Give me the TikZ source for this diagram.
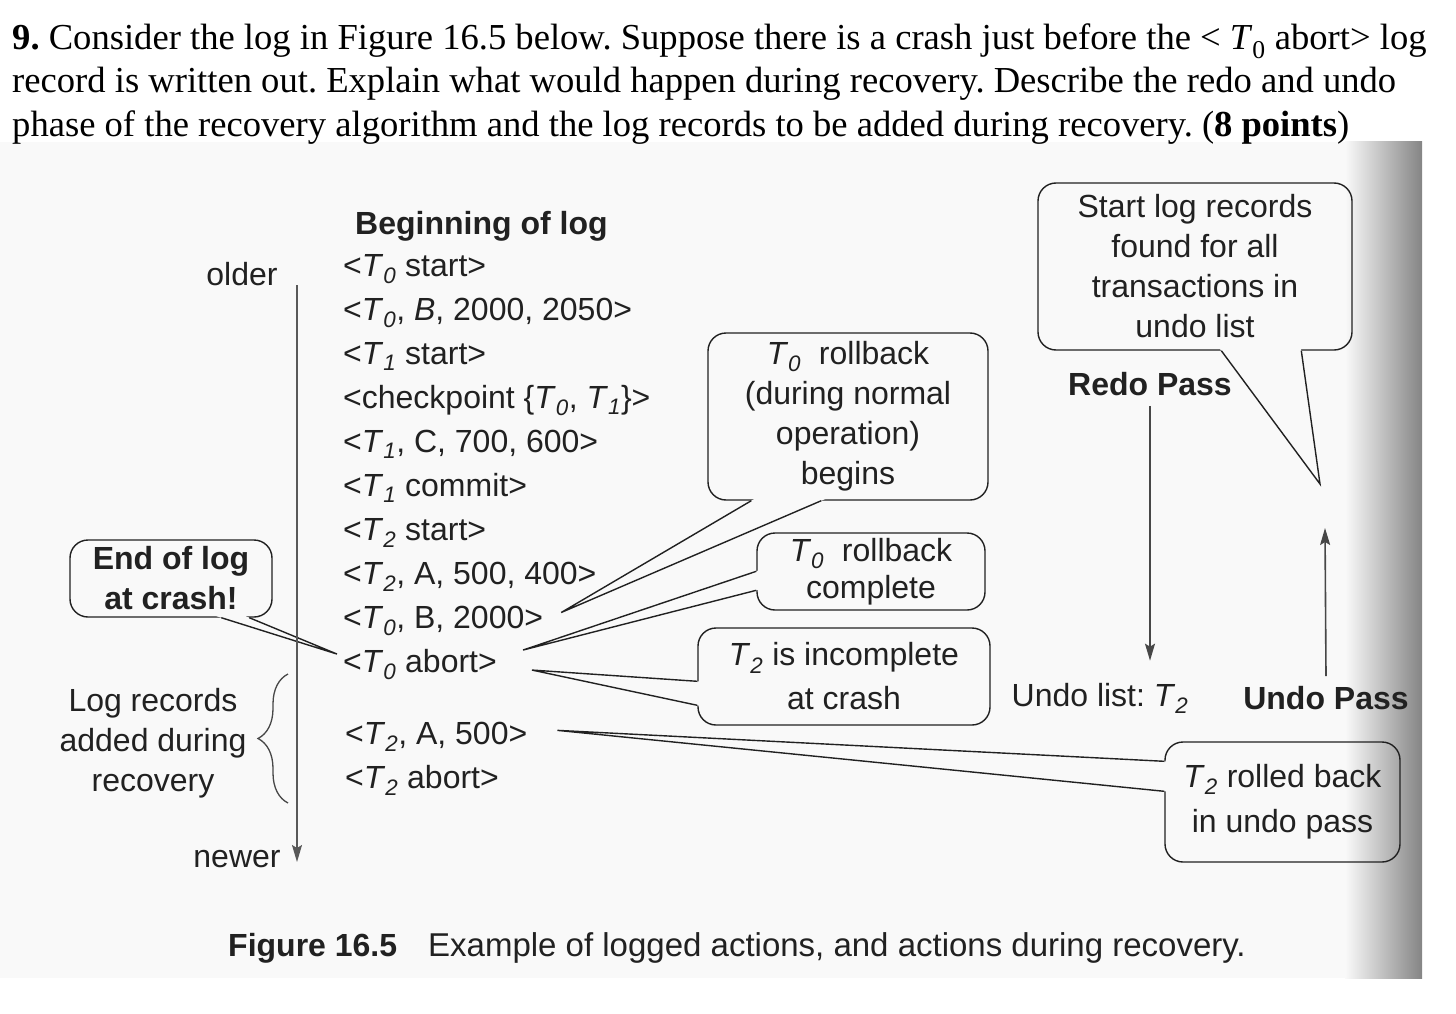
\documentclass[tikz,border=0pt]{standalone}
\usepackage{fontspec}
\setmainfont{Liberation Sans}
\newfontfamily\qfont{Liberation Serif}
\usetikzlibrary{arrows.meta,calc,decorations.pathreplacing}
\frenchspacing
\definecolor{ink}{gray}{0.13}
\definecolor{paper}{gray}{0.978}
\definecolor{rulecol}{gray}{0.28}
\newcommand{\figfont}{\fontsize{32}{40}\selectfont}
\newcommand{\tsub}[1]{\textit{T}\textsubscript{\textit{#1}}}
% tail of a speech bubble: two base points on the border, then the tip
\newcommand{\calltail}[3]{%
  \fill[paper] ($#1!-5pt!#3$) -- #3 -- ($#2!-5pt!#3$) -- cycle;
  \draw[tail] #1 -- #3 -- #2;}
\tikzset{
  qline/.style={anchor=base west,inner sep=0pt,text=black,font=\qfont\fontsize{36.6}{43}\selectfont},
  rec/.style={anchor=base west,inner sep=0pt,text=ink,font=\figfont},
  lab/.style={inner sep=0pt,text=ink,font=\figfont},
  head/.style={inner sep=0pt,text=ink,font=\figfont\bfseries},
  bubble/.style={draw=ink,line width=1.4pt,rounded corners=18pt,inner sep=0pt,align=center,text=ink,font=\figfont},
  tail/.style={draw=ink,line width=1.4pt,line join=miter},
  flow/.style={draw=rulecol,line width=1.6pt,-{Stealth[length=17pt,width=10pt,inset=3pt]}},
}
\begin{document}
\begin{tikzpicture}[x=1pt,y=-1pt]
  \useasboundingbox (0,0) rectangle (1456,1014);
  % scanned page
  \fill[paper] (0,142) rectangle (1422,978);
  \shade[left color=paper,right color=black!48] (1345,142) rectangle (1422,978);
  % question
  \node[qline] (q1) at (12,50) {\textbf{9.} Consider the log in Figure 16.5 below. Suppose there is a crash just before the < \textit{T}\textsubscript{0} abort> log};
  \node[qline] (q2) at (12,93) {record is written out. Explain what would happen during recovery. Describe the redo and undo};
  \node[qline] (q3) at (12,136) {phase of the recovery algorithm and the log records to be added during recovery. (\textbf{8 points})};
  % callouts
  \node[bubble,font=\figfont\bfseries,minimum width=202pt,minimum height=77pt] (eol) at (171,578.5) {End of log\\at crash!};
  \node[bubble,minimum width=280pt,minimum height=167pt] (begins) at (848,416.5) {\tsub{0}\ \ rollback\\(during normal\\operation)\\begins};
  \node[bubble,font=\fontsize{32}{37}\selectfont,minimum width=228pt,minimum height=77pt] (done) at (871,571.5) {\tsub{0}\ \ rollback\\complete};
  \node[bubble,font=\fontsize{32}{44}\selectfont,minimum width=292pt,minimum height=97pt] (incompl) at (844,676.5) {\tsub{2} is incomplete\\at crash};
  \node[bubble,font=\fontsize{32}{45}\selectfont,minimum width=235pt,minimum height=120pt] (rolled) at (1282.5,802) {\tsub{2} rolled back\\in undo pass};
  \node[bubble,minimum width=314pt,minimum height=167pt] (found) at (1195,266.5) {Start log records\\found for all\\transactions in\\undo list};
  % log records
  \node[head,anchor=base west] (beg) at (355,234) {Beginning of log};
  \node[rec] (r1) at (343,276) {<\tsub{0} start>};
  \node[rec] (r2) at (343,320) {<\tsub{0}, \textit{B}, 2000, 2050>};
  \node[rec] (r3) at (343,364) {<\tsub{1} start>};
  \node[rec] (r4) at (343,408) {<checkpoint \{\tsub{0}, \tsub{1}\}>};
  \node[rec] (r5) at (343,452) {<\tsub{1}, C, 700, 600>};
  \node[rec] (r6) at (343,496) {<\tsub{1} commit>};
  \node[rec] (r7) at (343,540) {<\tsub{2} start>};
  \node[rec] (r8) at (343,584) {<\tsub{2}, A, 500, 400>};
  \node[rec] (r9) at (343,628) {<\tsub{0}, B, 2000>};
  \node[rec] (r10) at (343,672) {<\tsub{0} abort>};
  \node[rec] (r11) at (345,744) {<\tsub{2}, A, 500>};
  \node[rec] (r12) at (345,788) {<\tsub{2} abort>};
  % tails
  \coordinate (eolA) at ($(eol.south west)+(152,0)$);
  \coordinate (eolB) at ($(eol.south west)+(180,0)$);
  \coordinate (eolT) at ($(r10.west)+(-6,-10)$);
  \calltail{(eolA)}{(eolB)}{(eolT)}
  \coordinate (bgA) at ($(begins.south west)+(44,0)$);
  \coordinate (bgB) at ($(begins.south west)+(114,0)$);
  \coordinate (bgT) at ($(r9.east)+(18,-8)$);
  \calltail{(bgA)}{(bgB)}{(bgT)}
  \coordinate (dnA) at ($(done.north west)+(0,39)$);
  \coordinate (dnB) at ($(done.north west)+(0,58)$);
  \coordinate (dnT) at ($(r10.east)+(26,-14)$);
  \calltail{(dnA)}{(dnB)}{(dnT)}
  \coordinate (icA) at ($(incompl.north west)+(0,54)$);
  \coordinate (icB) at ($(incompl.north west)+(0,78)$);
  \coordinate (icT) at ($(r10.east)+(35,6)$);
  \calltail{(icA)}{(icB)}{(icT)}
  \coordinate (rbA) at ($(rolled.north west)+(0,20)$);
  \coordinate (rbB) at ($(rolled.north west)+(0,50)$);
  \coordinate (rbT) at ($(r11.east)+(30,-6)$);
  \calltail{(rbA)}{(rbB)}{(rbT)}
  \coordinate (fdA) at ($(found.south west)+(184,0)$);
  \coordinate (fdB) at ($(found.south west)+(264,0)$);
  \coordinate (fdT) at (1320,484);
  \calltail{(fdA)}{(fdB)}{(fdT)}
  % time axis
  \node[lab,anchor=base] (older) at (242,285) {older};
  \node[lab,anchor=base] (newer) at (237,867) {newer};
  \coordinate (axtop) at (297,285);
  \coordinate (axbot) at (297,862);
  \draw[flow,draw=gray!70!black,line width=1.3pt] (axtop) -- (axbot);
  \draw[rulecol,line width=1.3pt,decorate,decoration={brace,amplitude=30pt}] (288,803) -- (288,674);
  \node[lab,align=center,font=\figfont] (added) at (153,743) {Log records\\added during\\recovery};
  % recovery passes
  \node[head] (redo) at (1150,384) {Redo Pass};
  \node[lab] (undol) at (1100,698) {Undo list: \tsub{2}};
  \node[head] (undop) at (1326,698) {Undo Pass};
  \coordinate (utip) at (1325,528);
  \draw[flow] ($(redo.south)+(0,10)$) -- ($(redo.south |- undol.north)+(0,-22)$);
  \draw[flow] ($(undop.north)+(0,-10)$) -- (utip);
  % caption
  \node[head,anchor=base west] (fig) at (228,956) {Figure 16.5};
  \node[lab,anchor=base west,font=\fontsize{33}{40}\selectfont] (capt) at (428,956) {Example of logged actions, and actions during recovery.};
\end{tikzpicture}
\end{document}
